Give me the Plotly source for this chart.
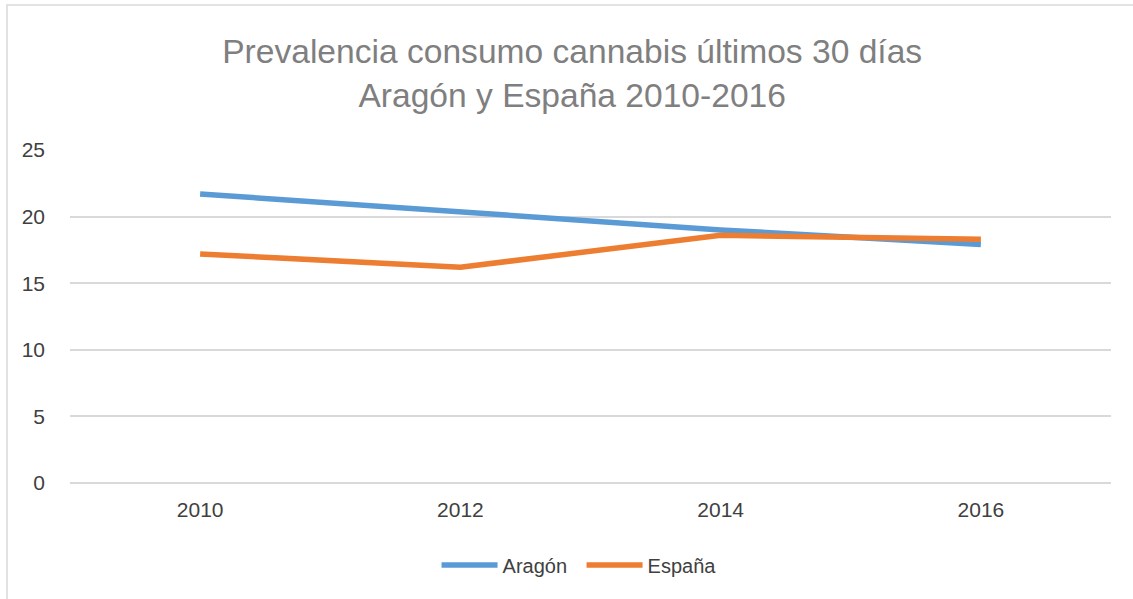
import plotly.graph_objects as go

years = ["2010", "2012", "2014", "2016"]
aragon = [21.7, 20.4, 19.0, 17.9]
espana = [17.2, 16.2, 18.6, 18.3]
y_ticks = [0, 5, 10, 15, 20, 25]

W, H = 1133, 599
L, R, T, B = 70, 22, 150, 116
pw, ph = W - L - R, H - T - B

def px_x(x):
    return (x - L) / pw

def px_y(y):
    return (H - B - y) / ph

fig = go.Figure()
fig.add_trace(go.Scatter(x=years, y=aragon, name="Aragón", mode="lines",
                         line=dict(color="#5B9BD5", width=5.5)))
fig.add_trace(go.Scatter(x=years, y=espana, name="España", mode="lines",
                         line=dict(color="#ED7D31", width=5.5)))

fig.update_layout(
    width=W, height=H,
    margin=dict(l=L, r=R, t=T, b=B, autoexpand=False),
    paper_bgcolor="white", plot_bgcolor="white",
    font=dict(family="Liberation Sans, sans-serif", color="#595959"),
    title=dict(text="Prevalencia consumo cannabis últimos 30 días<br>Aragón y España 2010-2016",
               x=0.505, xanchor="center", y=1 - 63 / H, yanchor="top",
               font=dict(size=33.6, color="#7F7F7F", family="Liberation Sans, sans-serif")),
    xaxis=dict(type="category", range=[-0.5, 3.5], showgrid=False, showline=False,
               zeroline=False, ticks="", tickfont=dict(size=21, color="#404040"),
               ticklabelstandoff=12),
    yaxis=dict(range=[0, 25], tickvals=y_ticks, showgrid=True, gridcolor="#D9D9D9",
               gridwidth=1.5, zeroline=True, zerolinecolor="#D9D9D9", zerolinewidth=1.5,
               showline=False, ticks="",
               tickfont=dict(size=21, color="#404040"), ticklabelstandoff=24),
    legend=dict(orientation="h", x=0.4914, xanchor="center", y=px_y(565), yanchor="middle",
                font=dict(size=20, color="#404040"),
                itemwidth=56, entrywidth=74, tracegroupgap=0),
    showlegend=True,
)

fig.add_shape(type="rect", xref="paper", yref="paper",
              x0=px_x(7), x1=px_x(1145), y0=px_y(610), y1=px_y(5),
              line=dict(color="#D9D9D9", width=1.5), fillcolor="rgba(0,0,0,0)", layer="below")

fig.write_html("out.html", config={"displayModeBar": False},
               post_script="document.body.style.margin='0';")
